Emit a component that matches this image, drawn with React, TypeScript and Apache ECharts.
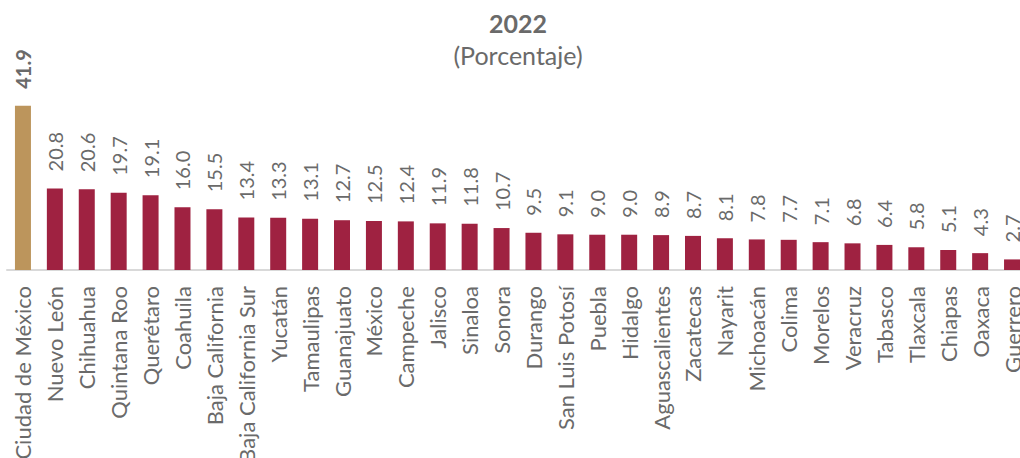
import React, { useEffect, useRef } from "react";
import * as echarts from "echarts";

const categories = [
  "Ciudad de México", "Nuevo León", "Chihuahua", "Quintana Roo", "Querétaro", "Coahuila",
  "Baja California", "Baja California Sur", "Yucatán", "Tamaulipas", "Guanajuato", "México",
  "Campeche", "Jalisco", "Sinaloa", "Sonora", "Durango", "San Luis Potosí", "Puebla", "Hidalgo",
  "Aguascalientes", "Zacatecas", "Nayarit", "Michoacán", "Colima", "Morelos", "Veracruz",
  "Tabasco", "Tlaxcala", "Chiapas", "Oaxaca", "Guerrero",
];
const values = [
  41.9, 20.8, 20.6, 19.7, 19.1, 16.0, 15.5, 13.4, 13.3, 13.1, 12.7, 12.5, 12.4, 11.9, 11.8, 10.7,
  9.5, 9.1, 9.0, 9.0, 8.9, 8.7, 8.1, 7.8, 7.7, 7.1, 6.8, 6.4, 5.8, 5.1, 4.3, 2.7,
];
const highlightIndex = 0;
const titleText = "2022";
const subtitleText = "(Porcentaje)";

const FONT = "Lato, 'Open Sans', sans-serif";
const GRAY = "#6A6A6A";
const MAROON = "#9F2241";
const GOLD = "#BC955C";

export default function App() {
  const ref = useRef<HTMLDivElement>(null);
  useEffect(() => {
    if (!ref.current) return;
    const chart = echarts.init(ref.current, undefined, { renderer: "svg" });
    const data = values.map((v, i) =>
      i === highlightIndex
        ? { value: v, itemStyle: { color: GOLD }, label: { fontWeight: "bold" } }
        : { value: v }
    );
    chart.setOption({
      animation: false,
      title: [
        {
          text: titleText,
          left: 513,
          top: 5,
          textAlign: "center",
          textStyle: { fontFamily: FONT, fontSize: 25, fontWeight: "bold", color: GRAY },
        },
        {
          text: subtitleText,
          left: 513,
          top: 37,
          textAlign: "center",
          textStyle: { fontFamily: FONT, fontSize: 25, fontWeight: "normal", color: GRAY },
        },
      ],
      grid: { left: 7, right: 0, top: 74, bottom: 188, containLabel: false, outerBoundsMode: "none" },
      xAxis: {
        type: "category",
        data: categories,
        axisTick: { show: false },
        axisLine: { lineStyle: { color: "#D9D9D9", width: 2 } },
        axisLabel: {
          rotate: 90,
          interval: 0,
          margin: 16,
          fontSize: 22,
          fontFamily: FONT,
          color: GRAY,
        },
      },
      yAxis: {
        type: "value",
        min: 0,
        max: 50,
        show: false,
        splitLine: { show: false },
      },
      series: [
        {
          type: "bar",
          data,
          barWidth: 16,
          itemStyle: { color: MAROON },
          label: {
            show: true,
            position: "top",
            rotate: 90,
            align: "left",
            verticalAlign: "middle",
            distance: 17,
            fontSize: 20,
            fontFamily: FONT,
            color: GRAY,
            formatter: (p: any) => Number(p.value).toFixed(1),
          },
        },
      ],
    });
    return () => chart.dispose();
  }, []);
  return (
    <div style={{ position: "absolute", left: 0, top: 0, width: 1020, height: 458, overflow: "hidden", background: "#fff" }}>
      <div ref={ref} style={{ width: 1028, height: 458 }} />
    </div>
  );
}
